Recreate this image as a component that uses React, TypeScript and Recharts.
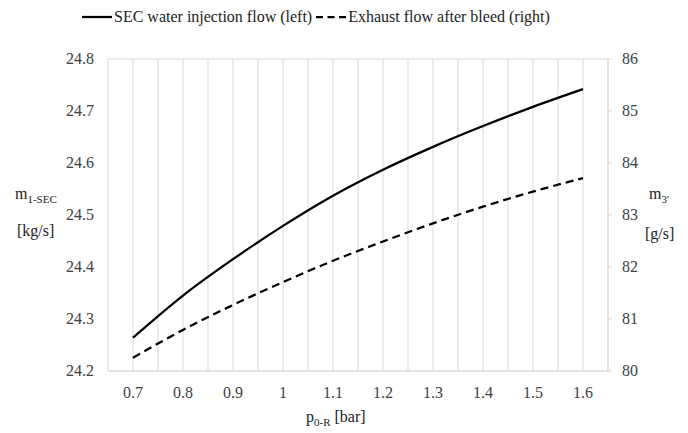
import { CartesianGrid, Line, LineChart, XAxis, YAxis } from 'recharts';

const pressures = [0.7, 0.8, 0.9, 1.0, 1.1, 1.2, 1.3, 1.4, 1.5, 1.6];
const secWaterFlow = [24.264, 24.345, 24.415, 24.479, 24.537, 24.587, 24.631, 24.671, 24.708, 24.742];
const exhaustFlow = [80.256, 80.79, 81.27, 81.71, 82.12, 82.49, 82.84, 83.16, 83.45, 83.71];
const leftTicks = [24.2, 24.3, 24.4, 24.5, 24.6, 24.7, 24.8];
const rightTicks = [80, 81, 82, 83, 84, 85, 86];

const data = pressures.map((p, i) => ({
  p,
  sec: secWaterFlow[i],
  exhaust: exhaustFlow[i],
}));

// gridlines sit on categories and on the boundaries between them (Excel look)
const step = pressures[1] - pressures[0];
const xGridTicks = [
  pressures[0] - step / 2,
  ...pressures.flatMap((p) => [p, p + step / 2]),
].map((v) => Math.round(v * 100) / 100);

const FONT = 'Liberation Serif';
const GRID = '#d9d9d9';
const TEXT = { fontFamily: FONT, fontSize: 16, color: '#222' };

const css = `
html body #root, html body #root *, html body #root svg text, html body #root svg tspan {
  font-family: 'Liberation Serif', serif !important;
}
`;

function formatX(value: number): string {
  const hit = pressures.find((p) => Math.abs(p - value) < 1e-6);
  return hit === undefined ? '' : String(hit);
}

function makeTick(anchor: 'start' | 'middle' | 'end', format: (v: number) => string, dy: number) {
  return (props: any) => {
    const { x, y, payload } = props;
    const label = format(Number(payload.value));
    if (!label) return <g />;
    return (
      <text
        x={x}
        y={y}
        dy={dy}
        textAnchor={anchor}
        fill="#404040"
        fontFamily={FONT}
        fontSize={16}
        style={{ fontFamily: FONT, fontSize: 16 }}
      >
        {label}
      </text>
    );
  };
}

export default function App() {
  return (
    <div
      style={{
        position: 'absolute',
        left: 0,
        top: 0,
        width: 688,
        height: 433,
        background: '#fff',
        fontFamily: FONT,
      }}
    >
      <style>{css}</style>
      <LineChart
        width={688}
        height={433}
        data={data}
        margin={{ top: 59, right: 20, bottom: 32, left: 48 }}
      >
        <CartesianGrid stroke={GRID} strokeWidth={1} />
        <XAxis
          dataKey="p"
          type="number"
          domain={[xGridTicks[0], xGridTicks[xGridTicks.length - 1]]}
          ticks={xGridTicks}
          interval={0}
          tick={makeTick('middle', formatX, 11)}
          tickLine={false}
          tickMargin={10}
          axisLine={{ stroke: GRID }}
          height={30}
        />
        <YAxis
          yAxisId="left"
          domain={[24.2, 24.8]}
          ticks={leftTicks}
          tick={makeTick('end', (v) => v.toFixed(1), 5)}
          tickLine={false}
          tickMargin={8}
          axisLine={false}
          width={60}
        />
        <YAxis
          yAxisId="right"
          orientation="right"
          domain={[80, 86]}
          ticks={rightTicks}
          tick={makeTick('start', (v) => String(v), 5)}
          tickLine={{ stroke: GRID }}
          tickSize={4}
          tickMargin={10}
          axisLine={{ stroke: GRID }}
          width={60}
        />
        <Line
          yAxisId="left"
          type="monotone"
          dataKey="sec"
          stroke="#000"
          strokeWidth={2.25}
          dot={false}
          isAnimationActive={false}
        />
        <Line
          yAxisId="right"
          type="monotone"
          dataKey="exhaust"
          stroke="#000"
          strokeWidth={2.25}
          strokeDasharray="8 5"
          dot={false}
          isAnimationActive={false}
        />
      </LineChart>

      {/* legend */}
      <div
        style={{
          position: 'absolute',
          left: 82,
          top: 8,
          display: 'flex',
          alignItems: 'center',
          whiteSpace: 'nowrap',
        }}
      >
        <svg width={32} height={4}>
          <line x1={0} y1={2} x2={30} y2={2} stroke="#000" strokeWidth={2.25} />
        </svg>
        <span style={{ ...TEXT, marginRight: 4 }}>SEC water injection flow (left)</span>
        <svg width={32} height={4}>
          <line x1={0} y1={2} x2={30} y2={2} stroke="#000" strokeWidth={2.25} strokeDasharray="7 4.5" />
        </svg>
        <span style={TEXT}>Exhaust flow after bleed (right)</span>
      </div>

      {/* left axis title */}
      <div style={{ ...TEXT, position: 'absolute', left: 15, top: 185, lineHeight: '18px' }}>
        m<sub style={{ fontFamily: FONT, fontSize: 11 }}>1-SEC</sub>
      </div>
      <div style={{ ...TEXT, position: 'absolute', left: 17, top: 222 }}>[kg/s]</div>

      {/* right axis title */}
      <div style={{ ...TEXT, position: 'absolute', left: 649, top: 185, lineHeight: '18px' }}>
        m<sub style={{ fontFamily: FONT, fontSize: 11 }}>3'</sub>
      </div>
      <div style={{ ...TEXT, position: 'absolute', left: 645, top: 225 }}>[g/s]</div>

      {/* x axis title */}
      <div style={{ ...TEXT, position: 'absolute', left: 306, top: 408 }}>
        p<sub style={{ fontFamily: FONT, fontSize: 11 }}>0-R</sub> [bar]
      </div>
    </div>
  );
}
